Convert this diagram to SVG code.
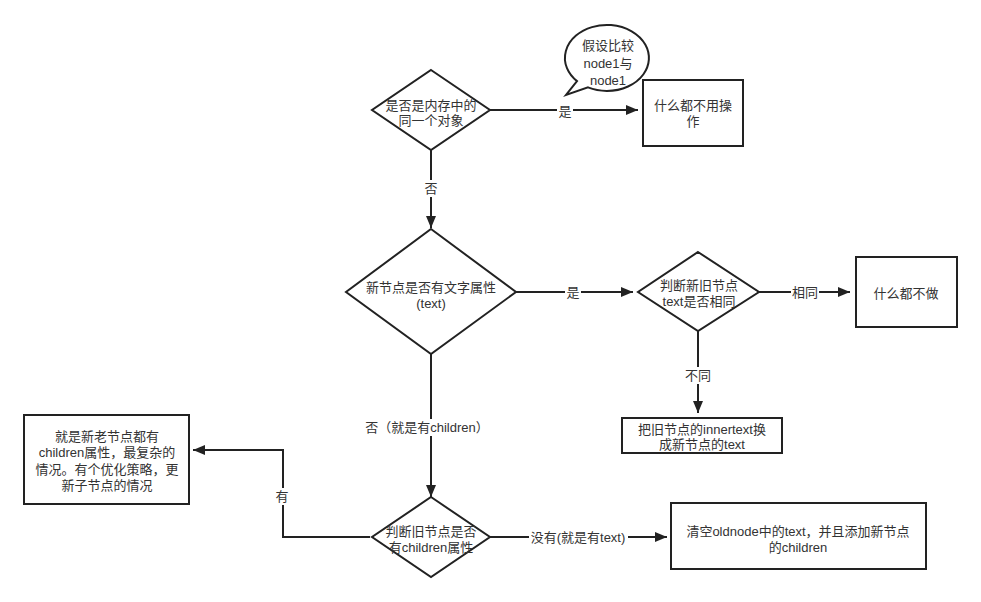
<svg xmlns="http://www.w3.org/2000/svg" width="981" height="602" viewBox="0 0 981 602">
<defs>
<marker id="arr" markerUnits="userSpaceOnUse" markerWidth="13" markerHeight="11" refX="12" refY="5" orient="auto">
<path d="M0,0 L12,5 L0,10 Z" fill="#222"/>
</marker>
<style>
.s{fill:#fff;stroke:#222;stroke-width:2}
.t{font-family:"Liberation Sans","Noto Sans CJK SC",sans-serif;font-size:13px;fill:#333;text-anchor:middle;dominant-baseline:central}
.e{fill:none;stroke:#222;stroke-width:2;marker-end:url(#arr)}
.lb{fill:#fff}
</style>
</defs>
<rect width="981" height="602" fill="#fff"/>
<g id="connectors">
<path class="e" d="M490,110 L638,110"/>
<path class="e" d="M431,150 L431,228"/>
<path class="e" d="M515,292 L633,292"/>
<path class="e" d="M759,292 L850,292"/>
<path class="e" d="M698,331 L698,413"/>
<path class="e" d="M431,353 L431,497"/>
<path class="e" d="M490,537 L667,537"/>
<path class="e" d="M370,537 L283,537 L283,450 L193,450"/>
<rect class="lb" x="557" y="102" width="16" height="17"/>
<text class="t" x="565" y="111">是</text>
<rect class="lb" x="423" y="180" width="16" height="17"/>
<text class="t" x="431" y="188">否</text>
<rect class="lb" x="565" y="284" width="16" height="17"/>
<text class="t" x="573" y="292">是</text>
<rect class="lb" x="791" y="284" width="28" height="17"/>
<text class="t" x="805" y="292">相同</text>
<rect class="lb" x="684" y="367" width="28" height="17"/>
<text class="t" x="698" y="375">不同</text>
<rect class="lb" x="367" y="419" width="120" height="17"/>
<text class="t" x="427" y="427">否（就是有children）</text>
<rect class="lb" x="275" y="488" width="16" height="17"/>
<text class="t" x="282" y="496">有</text>
<rect class="lb" x="529" y="529" width="99" height="17"/>
<text class="t" x="578" y="537">没有(就是有text)</text>
</g>
<g id="bubble">
<path class="s" d="M577,81.1 L566,95 L588,87.4 A42 33 0 1 0 577,81.1 Z"/>
<text class="t" x="608" y="45">假设比较</text>
<text class="t" x="608" y="63">node1与</text>
<text class="t" x="608" y="80">node1</text>
</g>
<g id="d1">
<polygon class="s" points="431,70 490,110 431,150 372,110"/>
<text class="t" x="431" y="105">是否是内存中的</text>
<text class="t" x="431" y="120">同一个对象</text>
</g>
<g id="b1">
<rect class="s" x="643" y="80" width="100" height="66"/>
<text class="t" x="693" y="105">什么都不用操</text>
<text class="t" x="693" y="121">作</text>
</g>
<g id="d2">
<polygon class="s" points="431,229 516,292 431,354 346,292"/>
<text class="t" x="431" y="287">新节点是否有文字属性</text>
<text class="t" x="431" y="303">(text)</text>
</g>
<g id="d3">
<polygon class="s" points="698,252 759,292 698,331 638,292"/>
<text class="t" x="699" y="285">判断新旧节点</text>
<text class="t" x="699" y="301">text是否相同</text>
</g>
<g id="b2">
<rect class="s" x="856" y="257" width="101" height="70"/>
<text class="t" x="906" y="293">什么都不做</text>
</g>
<g id="b3">
<rect class="s" x="622" y="418" width="160" height="35"/>
<text class="t" x="702" y="429">把旧节点的innertext换</text>
<text class="t" x="702" y="444">成新节点的text</text>
</g>
<g id="d4">
<polygon class="s" points="431,497 490,537 431,577 372,537"/>
<text class="t" x="431" y="531">判断旧节点是否</text>
<text class="t" x="431" y="547">有children属性</text>
</g>
<g id="b4">
<rect class="s" x="24" y="415" width="165" height="89"/>
<text class="t" x="107" y="436">就是新老节点都有</text>
<text class="t" x="107" y="452">children属性，最复杂的</text>
<text class="t" x="107" y="469">情况。有个优化策略，更</text>
<text class="t" x="107" y="485">新子节点的情况</text>
</g>
<g id="b5">
<rect class="s" x="671" y="503" width="255" height="66"/>
<text class="t" x="798" y="531">清空oldnode中的text，并且添加新节点</text>
<text class="t" x="798" y="547">的children</text>
</g>
</svg>
